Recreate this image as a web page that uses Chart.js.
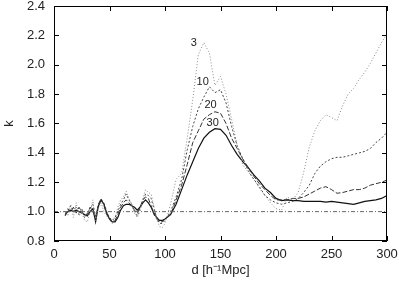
<!DOCTYPE html>
<html>
<head>
<meta charset="utf-8">
<script src="https://cdn.jsdelivr.net/npm/chart.js@4/dist/chart.umd.min.js"></script>
<style>
  html, body { margin: 0; padding: 0; background: #fff; }
  #wrap { width: 399px; height: 285px; }
</style>
</head>
<body>
<div id="wrap"><canvas id="kChart"></canvas></div>
<script>
// separation d [h^-1 Mpc]
const dist = [
  10, 12.5, 15, 17.5, 20, 22.5, 25, 27.5, 30, 32.5, 35, 37.5, 40, 42.5, 45, 47.5, 50,
  52.5, 55, 57.5, 60, 62.5, 65, 67.5, 70, 72.5, 75, 77.5, 80, 82.5, 85, 87.5, 90,
  92.5, 95, 97.5, 100,
  105, 110, 115, 120, 125, 130, 135, 140, 145, 150, 155, 160, 165, 170, 175, 180,
  185, 190, 195, 200, 205, 210, 215, 220, 225, 230, 235, 240, 245, 250, 255, 260,
  265, 270, 275, 280, 285, 290, 295, 300
];

// k for each smoothing (3, 10, 20, 30)
const k3 = [
  1.00, 0.97, 1.05, 0.96, 1.06, 0.97, 1.00, 0.94, 0.93, 1.00, 1.08, 0.94, 1.02, 1.06, 1.00, 0.97, 0.94,
  0.92, 0.96, 1.03, 1.08, 1.10, 1.14, 1.09, 1.05, 0.99, 0.96, 1.00, 1.09, 1.15, 1.13, 1.12, 1.04,
  0.95, 0.90, 0.89, 0.92,
  1.05, 1.22, 1.26, 1.50, 1.76, 2.07, 2.15, 2.08, 1.86, 1.92, 1.80, 1.63, 1.45, 1.32, 1.27, 1.22,
  1.16, 1.11, 1.06, 1.02, 1.01, 1.10, 1.08, 1.13, 1.27, 1.44, 1.55, 1.62, 1.66, 1.64, 1.62, 1.72,
  1.80, 1.84, 1.90, 1.95, 2.01, 2.08, 2.15, 2.21
];
const k10 = [
  0.99, 1.00, 1.04, 1.00, 1.03, 0.98, 1.02, 0.96, 0.99, 1.02, 1.05, 0.97, 1.04, 1.07, 1.06, 1.00, 0.96,
  0.94, 0.96, 1.00, 1.05, 1.08, 1.12, 1.08, 1.05, 1.00, 0.97, 1.02, 1.07, 1.12, 1.11, 1.09, 1.02,
  0.96, 0.92, 0.92, 0.94,
  1.00, 1.10, 1.22, 1.42, 1.58, 1.70, 1.78, 1.85, 1.81, 1.83, 1.74, 1.58, 1.45, 1.36, 1.28, 1.22,
  1.17, 1.11, 1.08, 1.06, 1.05, 1.06, 1.07, 1.09, 1.13, 1.18, 1.26, 1.31, 1.34, 1.36, 1.37, 1.37,
  1.38, 1.39, 1.40, 1.41, 1.43, 1.47, 1.50, 1.54
];
const k20 = [
  0.97, 1.02, 1.00, 1.03, 0.99, 1.03, 1.00, 0.97, 0.98, 1.03, 1.00, 0.96, 1.05, 1.09, 1.04, 0.98, 0.95,
  0.93, 0.94, 0.98, 1.03, 1.06, 1.08, 1.06, 1.04, 1.01, 0.99, 1.03, 1.08, 1.10, 1.09, 1.04, 0.98,
  0.95, 0.93, 0.93, 0.95,
  0.98, 1.08, 1.18, 1.32, 1.47, 1.55, 1.63, 1.66, 1.68, 1.67, 1.60, 1.50, 1.43, 1.36, 1.30, 1.24,
  1.19, 1.15, 1.11, 1.08, 1.08, 1.08, 1.09, 1.09, 1.10, 1.12, 1.14, 1.16, 1.17, 1.15, 1.125, 1.13,
  1.14, 1.15, 1.15, 1.16, 1.18, 1.19, 1.20, 1.215
];
const k30 = [
  0.98, 1.00, 1.01, 1.00, 1.01, 1.00, 0.99, 0.98, 0.97, 1.00, 1.02, 0.93, 1.04, 1.08, 1.05, 0.99, 0.95,
  0.93, 0.93, 0.96, 1.01, 1.04, 1.05, 1.05, 1.04, 1.03, 1.01, 1.03, 1.06, 1.08, 1.06, 1.03, 0.99,
  0.96, 0.94, 0.94, 0.95,
  0.98, 1.05, 1.15, 1.25, 1.34, 1.43, 1.50, 1.54, 1.565, 1.56, 1.52, 1.45, 1.39, 1.34, 1.30, 1.25,
  1.21, 1.16, 1.13, 1.09, 1.075, 1.08, 1.075, 1.075, 1.07, 1.07, 1.07, 1.07, 1.065, 1.07, 1.065, 1.06,
  1.055, 1.05, 1.06, 1.07, 1.075, 1.08, 1.09, 1.11
];

// curve labels, in data coordinates (d, k)
const curveLabels = ['3', '10', '20', '30'];
const labelD = [126, 134, 141, 143];
const labelK = [2.15, 1.886, 1.726, 1.603];

const xTicks = [0, 50, 100, 150, 200, 250, 300];
const yTicks = [0.8, 1, 1.2, 1.4, 1.6, 1.8, 2, 2.2, 2.4];

const pts = (ys) => dist.map((d, i) => ({ x: d, y: ys[i] }));

// box + inward tick marks, gnuplot style
const framePlugin = {
  id: 'framePlugin',
  afterDatasetsDraw(chart) {
    const { ctx, chartArea: { top, bottom, left, right }, scales: { x, y } } = chart;
    ctx.save();
    ctx.strokeStyle = '#000';
    ctx.lineWidth = 1;
    ctx.strokeRect(left + 0.5, top + 0.5, right - left - 1, bottom - top - 1);
    ctx.beginPath();
    xTicks.forEach((v) => {
      const px = Math.round(x.getPixelForValue(v)) + 0.5;
      ctx.moveTo(px, bottom); ctx.lineTo(px, bottom - 5);
      ctx.moveTo(px, top); ctx.lineTo(px, top + 5);
    });
    yTicks.forEach((v) => {
      const py = Math.round(y.getPixelForValue(v)) + 0.5;
      ctx.moveTo(left, py); ctx.lineTo(left + 5, py);
      ctx.moveTo(right, py); ctx.lineTo(right - 5, py);
    });
    ctx.stroke();

    ctx.font = '11px "Liberation Sans", Arial, sans-serif';
    ctx.fillStyle = '#222';
    ctx.textAlign = 'center';
    ctx.textBaseline = 'middle';
    curveLabels.forEach((t, i) => {
      ctx.fillText(t, x.getPixelForValue(labelD[i]), y.getPixelForValue(labelK[i]));
    });
    ctx.restore();
  }
};

const tickFont = { family: '"Liberation Sans", Arial, sans-serif', size: 13 };

new Chart(document.getElementById('kChart').getContext('2d'), {
  type: 'line',
  data: {
    datasets: [
      { label: 'unity', data: [{ x: 0, y: 1 }, { x: 300, y: 1 }], borderColor: '#666', borderWidth: 1, borderDash: [4, 2, 1, 2] },
      { label: '3', data: pts(k3), borderColor: '#8a8a8a', borderWidth: 1, borderDash: [1, 2] },
      { label: '10', data: pts(k10), borderColor: '#444', borderWidth: 1, borderDash: [2, 2] },
      { label: '20', data: pts(k20), borderColor: '#333', borderWidth: 1, borderDash: [5, 2] },
      { label: '30', data: pts(k30), borderColor: '#111', borderWidth: 1.2 }
    ]
  },
  options: {
    responsive: true,
    maintainAspectRatio: false,
    animation: false,
    layout: { padding: { top: 6, right: 12, left: 0, bottom: 0 } },
    elements: { point: { radius: 0 }, line: { tension: 0 } },
    plugins: { legend: { display: false }, tooltip: { enabled: false } },
    scales: {
      x: {
        type: 'linear',
        min: 0,
        max: 300,
        afterBuildTicks: (s) => { s.ticks = xTicks.map((v) => ({ value: v })); },
        afterFit: (s) => { s.height = 44; s.paddingLeft = 0; s.paddingRight = 0; },
        grid: { display: false, drawTicks: false },
        border: { display: false },
        ticks: { color: '#222', font: tickFont, padding: 6, maxRotation: 0 },
        title: {
          display: true,
          text: 'd [h⁻¹Mpc]',
          color: '#222',
          font: tickFont,
          padding: { top: 0, bottom: 7 }
        }
      },
      y: {
        min: 0.8,
        max: 2.4,
        afterBuildTicks: (s) => { s.ticks = yTicks.map((v) => ({ value: v })); },
        afterFit: (s) => { s.width = 54; s.paddingTop = 0; s.paddingBottom = 0; },
        grid: { display: false, drawTicks: false },
        border: { display: false },
        ticks: { color: '#222', font: tickFont, padding: 9 },
        title: {
          display: true,
          text: 'k',
          color: '#222',
          font: tickFont,
          padding: { top: 2, bottom: 0 }
        }
      }
    }
  },
  plugins: [framePlugin]
});
</script>
</body>
</html>
